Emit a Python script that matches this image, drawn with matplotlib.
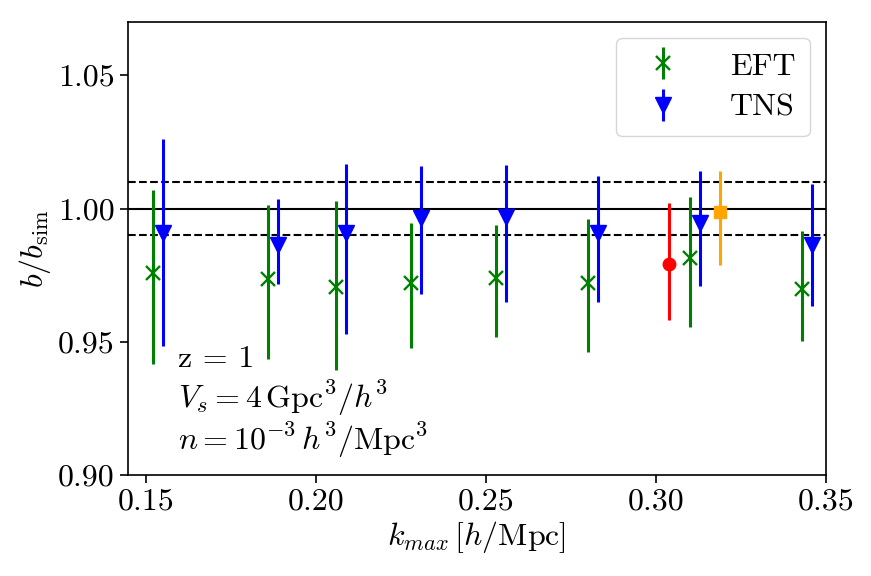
import numpy as np
import matplotlib
matplotlib.use("Agg")
import matplotlib.pyplot as plt

plt.rcParams["font.family"] = "serif"
plt.rcParams["font.serif"] = ["cmr10", "DejaVu Serif"]
plt.rcParams["mathtext.fontset"] = "cm"
plt.rcParams["axes.formatter.use_mathtext"] = True
plt.rcParams["axes.unicode_minus"] = False

# EFT
k_eft = [0.152, 0.186, 0.206, 0.228, 0.253, 0.280, 0.310, 0.343]
b_eft = [0.976, 0.9736, 0.9705, 0.9721, 0.9739, 0.9720, 0.9813, 0.9700]
eft_hi = [1.0068, 1.0012, 1.0028, 0.9945, 0.9940, 0.9960, 1.0043, 0.9915]
eft_lo = [0.9416, 0.9436, 0.9394, 0.9478, 0.9520, 0.9463, 0.9557, 0.9505]

# TNS
k_tns = [0.155, 0.189, 0.209, 0.231, 0.256, 0.283, 0.313, 0.346]
b_tns = [0.9908, 0.9865, 0.9908, 0.9963, 0.9970, 0.9908, 0.9947, 0.9865]
tns_hi = [1.0260, 1.0034, 1.0168, 1.0158, 1.0162, 1.0121, 1.0141, 1.0091]
tns_lo = [0.9483, 0.9716, 0.9530, 0.9681, 0.9650, 0.9650, 0.9708, 0.9635]

# einzelne Punkte
k_red, b_red, red_hi, red_lo = 0.304, 0.9792, 1.0019, 0.9583
k_or, b_or, or_hi, or_lo = 0.319, 0.9988, 1.0141, 0.9790

b_eft = np.array(b_eft); b_tns = np.array(b_tns)
eft_err = [b_eft - np.array(eft_lo), np.array(eft_hi) - b_eft]
tns_err = [b_tns - np.array(tns_lo), np.array(tns_hi) - b_tns]

fig = plt.figure(figsize=(8.71, 5.76), dpi=100)
ax = fig.add_axes([0.147, 0.175, 0.801, 0.787])

ax.axhline(1.0, color="k", lw=1.5)
ax.axhline(1.01, color="k", lw=1.5, ls="--")
ax.axhline(0.99, color="k", lw=1.5, ls="--")

ax.errorbar(k_eft, b_eft, yerr=eft_err, fmt="x", color="green", ms=10, mew=1.7, elinewidth=2.2, label="EFT")
ax.errorbar(k_tns, b_tns, yerr=tns_err, fmt="v", color="blue", ms=11, elinewidth=2.2, label="TNS")
ax.errorbar([k_red], [b_red], yerr=[[b_red - red_lo], [red_hi - b_red]], fmt="o", color="red", ms=9, elinewidth=2.2)
ax.errorbar([k_or], [b_or], yerr=[[b_or - or_lo], [or_hi - b_or]], fmt="s", color="orange", ms=9, elinewidth=2.2)

ax.set_xlim(0.1448, 0.35)
ax.set_ylim(0.90, 1.07)
ax.set_xticks([0.15, 0.20, 0.25, 0.30, 0.35])
ax.set_yticks([0.90, 0.95, 1.00, 1.05])
ax.set_xticklabels(["0.15", "0.20", "0.25", "0.30", "0.35"])
ax.set_yticklabels(["0.90", "0.95", "1.00", "1.05"])
ax.tick_params(labelsize=23, length=6, width=1.2)
for s in ax.spines.values():
    s.set_linewidth(1.2)

ax.set_xlabel(r"$k_{max}\,[h/\mathrm{Mpc}]$", fontsize=23, labelpad=2)
ax.set_ylabel(r"$b/b_{\mathrm{sim}}$", fontsize=23, labelpad=4)

ax.text(0.1595, 0.9435, "z = 1", fontsize=23, va="center")
ax.text(0.1595, 0.9290, r"$V_s = 4\,\mathrm{Gpc}^3/h^3$", fontsize=23, va="center")
ax.text(0.1595, 0.9130, r"$n = 10^{-3}\,h^3/\mathrm{Mpc}^3$", fontsize=23, va="center")

ax.legend(loc="upper right", fontsize=23, borderpad=0.45, handlelength=2.0, handletextpad=1.1,
          labelspacing=0.4)

fig.savefig("out.png", dpi=100)
